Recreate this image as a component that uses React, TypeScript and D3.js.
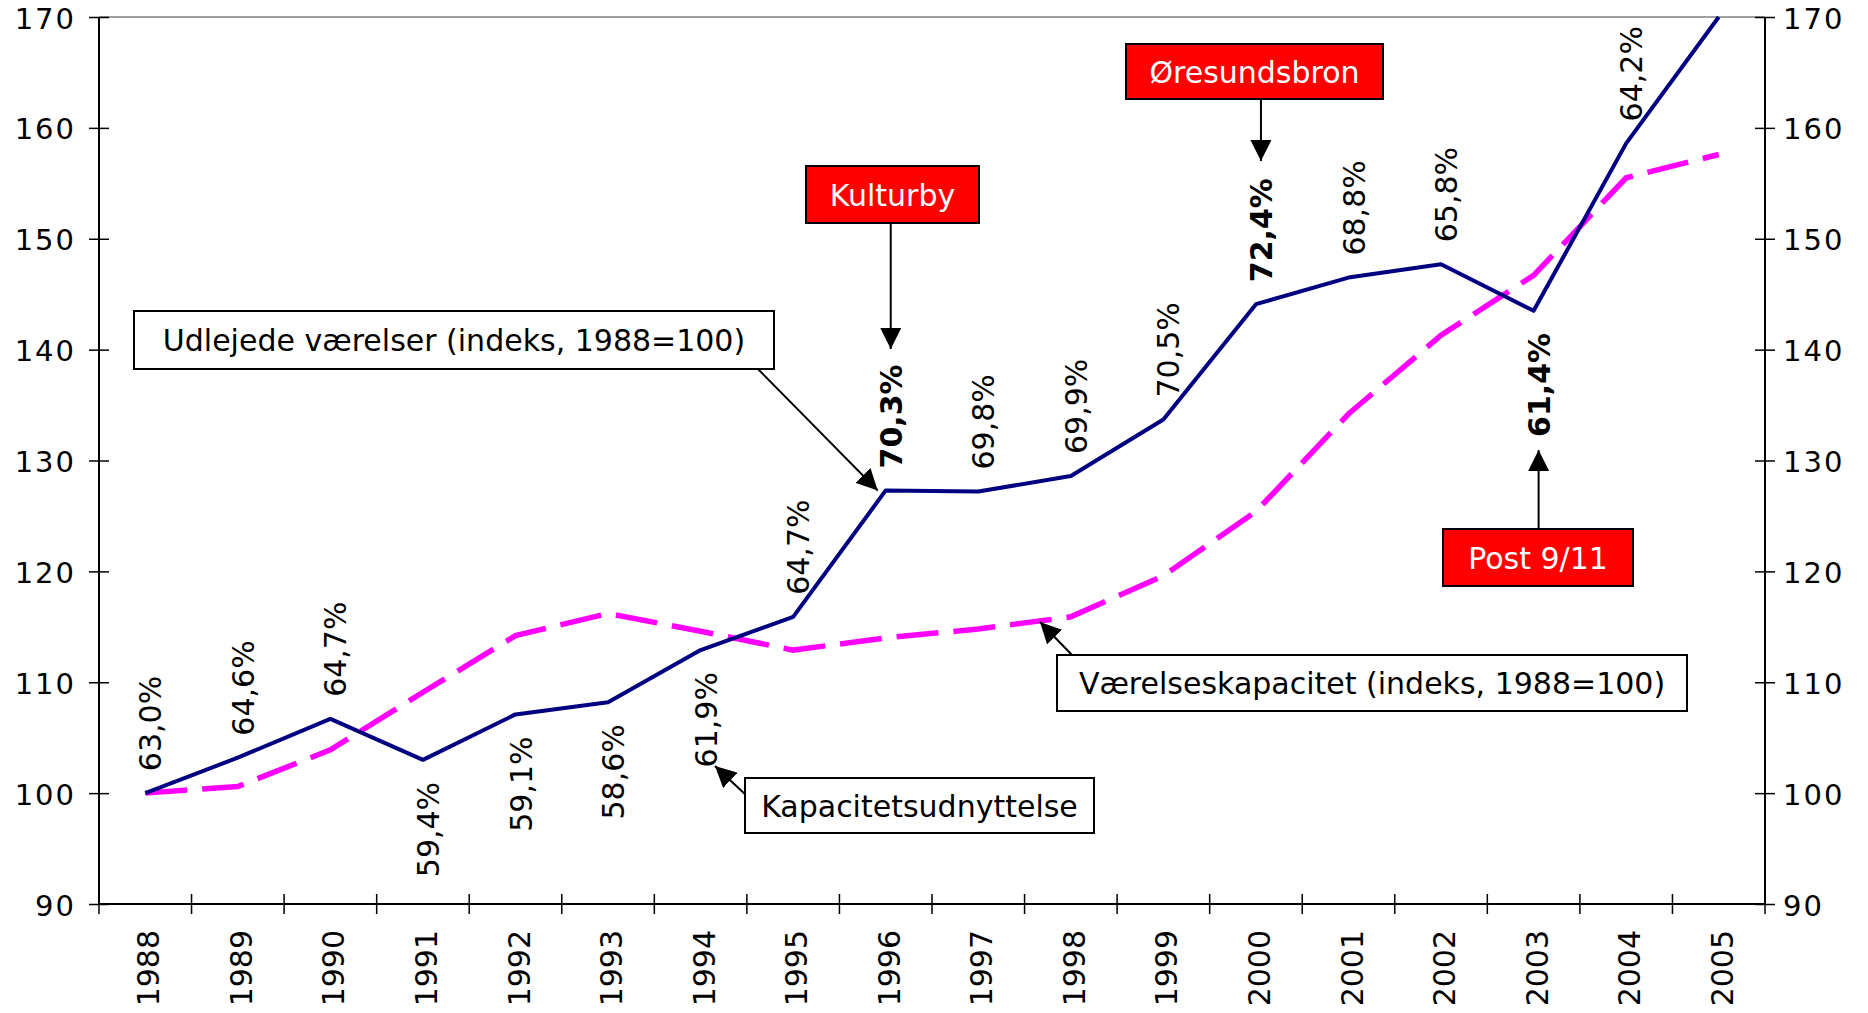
import React, { useEffect, useRef } from 'react'
import * as d3 from 'd3'

// years on the category axis
const years = ['1988', '1989', '1990', '1991', '1992', '1993', '1994', '1995', '1996',
  '1997', '1998', '1999', '2000', '2001', '2002', '2003', '2004', '2005']

// Udlejede værelser (indeks, 1988=100)
const roomsLet = [100, 103.2, 106.7, 103.0, 107.1, 108.2, 112.9, 115.9, 127.3,
  127.2, 128.6, 133.7, 144.1, 146.5, 147.7, 143.5, 158.6, 170.0]

// Værelseskapacitet (indeks, 1988=100)
const roomCapacity = [100, 100.6, 103.9, 109.1, 114.2, 116.2, 114.6, 112.9, 114.0,
  114.8, 115.9, 119.6, 125.4, 134.2, 141.3, 146.7, 155.5, 157.6]

// Kapacitetsudnyttelse labels (no label for 2005)
const occupancy = ['63,0%', '64,6%', '64,7%', '59,4%', '59,1%', '58,6%', '61,9%', '64,7%', '70,3%',
  '69,8%', '69,9%', '70,5%', '72,4%', '68,8%', '65,8%', '61,4%', '64,2%']
const labelsBelow = ['1991', '1992', '1993', '1994', '2003']
const labelsBold = ['1996', '2000', '2003']

const yTicks = [90, 100, 110, 120, 130, 140, 150, 160, 170]

const W = 1868
const H = 1013
const FONT = "Verdana, 'DejaVu Sans', sans-serif"

const App = () => {
  const ref = useRef<HTMLDivElement>(null)

  useEffect(() => {
    drawChart(ref.current)
  }, [])

  const drawChart = (element: HTMLDivElement | null) => {
    if (!element) return
    d3.select(element).select('svg').remove()

    const svg = d3.select(element)
      .append('svg')
      .attr('width', W)
      .attr('height', H)
      .style('display', 'block')
      .style('font-family', FONT)

    const left = 99, right = 1765, top = 17, bottom = 904

    const band = d3.scaleBand().domain(years).range([left, right]).padding(0)
    const x = (yr: string) => (band(yr) as number) + band.bandwidth() / 2
    const y = d3.scaleLinear().domain([90, 170]).range([bottom, top])

    // arrow head
    svg.append('defs').append('marker')
      .attr('id', 'arrow')
      .attr('viewBox', '0 0 20 20')
      .attr('refX', 20).attr('refY', 10)
      .attr('markerWidth', 21).attr('markerHeight', 21)
      .attr('markerUnits', 'userSpaceOnUse')
      .attr('orient', 'auto')
      .append('path').attr('d', 'M0,0 L20,10 L0,20 Z').attr('fill', '#000')

    // top border of plot area
    svg.append('line')
      .attr('x1', left).attr('x2', right).attr('y1', top).attr('y2', top)
      .attr('stroke', '#808080').attr('stroke-width', 1.5)

    // left + right axes
    const axL = svg.append('g').attr('transform', `translate(${left},0)`)
      .call(d3.axisLeft(y).tickValues(yTicks).tickSize(10).tickPadding(13))
    const axR = svg.append('g').attr('transform', `translate(${right},0)`)
      .call(d3.axisRight(y).tickValues(yTicks).tickSize(10).tickPadding(8))
    ;[axL, axR].forEach((ax, i) => {
      ax.select('.domain').attr('stroke', '#000').attr('stroke-width', 2)
        .attr('d', `M0,${top}V${bottom}`)
      ax.selectAll('.tick line').attr('x1', i === 0 ? 10 : -10).attr('stroke', '#000').attr('stroke-width', 1.5)
      ax.selectAll('.tick text')
        .attr('font-family', FONT).attr('font-size', 29).attr('fill', '#000')
        .attr('letter-spacing', 2)
        .attr('dy', 11)
    })

    // x axis
    const gx = svg.append('g')
    gx.append('line').attr('x1', left).attr('x2', right).attr('y1', bottom).attr('y2', bottom)
      .attr('stroke', '#000').attr('stroke-width', 2)
    const bounds = years.map(yr => band(yr) as number).concat([right])
    gx.selectAll('line.tk').data(bounds).enter().append('line')
      .attr('class', 'tk')
      .attr('x1', d => d).attr('x2', d => d)
      .attr('y1', bottom - 10).attr('y2', bottom + 10)
      .attr('stroke', '#000').attr('stroke-width', 1.5)
    gx.selectAll('text').data(years).enter().append('text')
      .attr('transform', d => `translate(${x(d) + 14},${bottom + 26}) rotate(-90)`)
      .attr('text-anchor', 'end')
      .attr('font-size', 30)
      .text(d => d)

    // lines
    const line = d3.line<number>()
      .x((_, i) => x(years[i]))
      .y(d => y(d))

    svg.append('path')
      .attr('d', line(roomCapacity))
      .attr('fill', 'none')
      .attr('stroke', '#FF00FF')
      .attr('stroke-width', 5.5)
      .attr('stroke-dasharray', '42,15')

    svg.append('path')
      .attr('d', line(roomsLet))
      .attr('fill', 'none')
      .attr('stroke', '#000080')
      .attr('stroke-width', 4)
      .attr('stroke-linejoin', 'round')

    // occupancy labels
    svg.append('g').selectAll('text').data(occupancy).enter().append('text')
      .attr('transform', (d, i) => {
        const yr = years[i]
        const below = labelsBelow.includes(yr)
        const py = y(roomsLet[i]) + (below ? 22 : -22)
        return `translate(${x(yr) + 16},${py}) rotate(-90)`
      })
      .attr('text-anchor', (d, i) => labelsBelow.includes(years[i]) ? 'end' : 'start')
      .attr('font-size', 30)
      .attr('font-weight', (d, i) => labelsBold.includes(years[i]) ? 'bold' : 'normal')
      .text(d => d)

    // annotation boxes with arrows
    const notes = [
      { text: 'Udlejede værelser (indeks, 1988=100)', bx: 134, by: 311, bw: 640, bh: 58, red: false,
        from: [758, 369], to: [x('1996') - 8, y(roomsLet[8])] },
      { text: 'Værelseskapacitet (indeks, 1988=100)', bx: 1057, by: 655, bw: 630, bh: 56, red: false,
        from: [1072, 655], to: [1040, 622] },
      { text: 'Kapacitetsudnyttelse', bx: 745, by: 778, bw: 349, bh: 55, red: false,
        from: [747, 796], to: [715, 766] },
      { text: 'Kulturby', bx: 806, by: 166, bw: 173, bh: 57, red: true,
        from: [x('1996') + 5, 223], to: [x('1996') + 5, 349] },
      { text: 'Øresundsbron', bx: 1126, by: 44, bw: 257, bh: 55, red: true,
        from: [x('2000') + 5, 99], to: [x('2000') + 5, 161] },
      { text: 'Post 9/11', bx: 1443, by: 529, bw: 190, bh: 57, red: true,
        from: [x('2003') + 5, 529], to: [x('2003') + 5, 450] },
    ]

    const g = svg.append('g')
    notes.forEach(n => {
      g.append('line')
        .attr('x1', n.from[0]).attr('y1', n.from[1])
        .attr('x2', n.to[0]).attr('y2', n.to[1])
        .attr('stroke', '#000').attr('stroke-width', 2)
        .attr('marker-end', 'url(#arrow)')
      g.append('rect')
        .attr('x', n.bx).attr('y', n.by).attr('width', n.bw).attr('height', n.bh)
        .attr('fill', n.red ? '#FF0000' : '#fff')
        .attr('stroke', '#000').attr('stroke-width', 2)
      g.append('text')
        .attr('x', n.bx + n.bw / 2).attr('y', n.by + n.bh / 2 + 11)
        .attr('text-anchor', 'middle')
        .attr('font-size', 30)
        .attr('fill', n.red ? '#fff' : '#000')
        .text(n.text)
    })
  }

  return (
    <div>
      <style>{'body{margin:0}'}</style>
      <div ref={ref}></div>
    </div>
  )
}

export default App
